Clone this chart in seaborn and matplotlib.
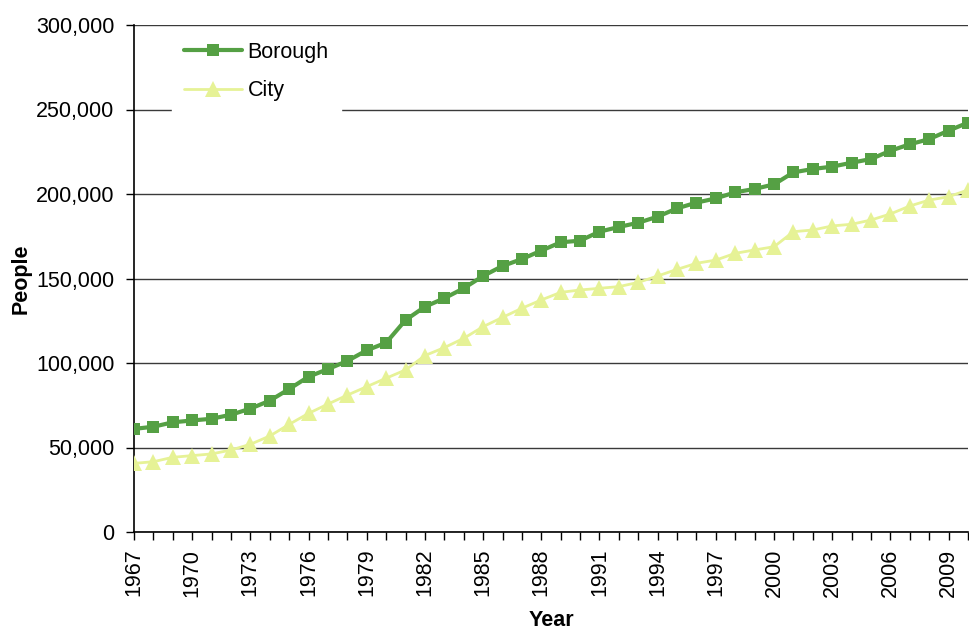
import numpy as np
import pandas as pd
import matplotlib
matplotlib.use("Agg")
import matplotlib.pyplot as plt
import seaborn as sns
from matplotlib.ticker import FuncFormatter

years = list(range(1967, 2011))
borough = [61000, 62300, 64900, 66000, 67000, 69400, 73000, 77700, 84600, 91900,
           96400, 101200, 107500, 112000, 125400, 133300, 138300, 144200, 151500, 157400,
           161500, 166500, 171400, 172400, 177700, 180500, 183000, 186600, 191500, 194900,
           197400, 201000, 203000, 205700, 212800, 214800, 216200, 218500, 220700, 225600,
           229400, 232500, 237500, 242200]
city = [40600, 41600, 44200, 45200, 46200, 48500, 51900, 56800, 63700, 70200,
        75700, 81000, 86000, 91000, 95900, 104400, 109100, 114600, 121500, 127000,
        132400, 137300, 141800, 143200, 144200, 145200, 147700, 151500, 155400, 159000,
        160900, 164900, 166900, 168800, 177700, 178700, 181100, 182100, 184600, 188200,
        192900, 196400, 198400, 202400]
series_names = ["Borough", "City"]
x_label = "Year"
y_label = "People"
y_ticks = [0, 50000, 100000, 150000, 200000, 250000, 300000]

sns.set_theme(style="white")
plt.rcParams['font.family'] = ['Liberation Sans', 'DejaVu Sans']
plt.rcParams['text.color'] = 'black'
plt.rcParams['axes.labelcolor'] = 'black'

df_b = pd.DataFrame({"Year": years, "People": borough, "Series": series_names[0]})
df_c = pd.DataFrame({"Year": years, "People": city, "Series": series_names[1]})

fig = plt.figure(figsize=(9.69, 6.30), dpi=100)
ax = fig.add_axes([134/969, 1 - 532/630, (968-134)/969, (532-25)/630])

green = "#55A044"
yellow = "#E6F296"
fs = 15.5

sns.lineplot(data=df_b, x="Year", y="People", ax=ax, color=green, linewidth=3,
             marker="s", markersize=9, markeredgewidth=0, label=series_names[0], zorder=4)
sns.lineplot(data=df_c, x="Year", y="People", ax=ax, color=yellow, linewidth=2,
             marker="^", markersize=11, markeredgewidth=0, label=series_names[1], zorder=3)

ax.set_xlim(1967, 2010)
ax.set_ylim(0, 300000)
ax.set_yticks(y_ticks)
ax.yaxis.set_major_formatter(FuncFormatter(lambda v, p: f"{int(v):,}"))
ax.set_xticks(years)
ax.set_xticklabels([str(y) if (y - 1967) % 3 == 0 else "" for y in years], rotation=90)

ax.grid(axis="y", color="#3a3a3a", linewidth=1.0)
ax.grid(axis="x", visible=False)
for s in ["top", "right"]:
    ax.spines[s].set_visible(False)
ax.spines["left"].set_color("black")
ax.spines["bottom"].set_color("black")
ax.spines["left"].set_linewidth(1.2)
ax.spines["bottom"].set_linewidth(1.2)
ax.tick_params(axis="both", which="major", direction="out", length=6, width=1,
               color="black", labelsize=fs, labelcolor="black", bottom=True, left=True)
ax.tick_params(axis="x", pad=6)
ax.tick_params(axis="y", pad=8)

ax.set_xlabel(x_label, fontsize=fs, fontweight="bold", labelpad=9, color="black")
ax.set_ylabel(y_label, fontsize=fs, fontweight="bold", labelpad=3, color="black")

leg = ax.legend(loc="upper left", bbox_to_anchor=(0.046, 0.99), frameon=True,
                fontsize=fs, handlelength=2.7, borderpad=0.55, labelspacing=0.8,
                handletextpad=0.25, borderaxespad=0, labelcolor="black")
leg.get_frame().set_facecolor("white")
leg.get_frame().set_edgecolor("white")
leg.get_frame().set_alpha(1)
leg.get_frame().set_boxstyle("square", pad=0)

fig.savefig("out.png", dpi=100)
